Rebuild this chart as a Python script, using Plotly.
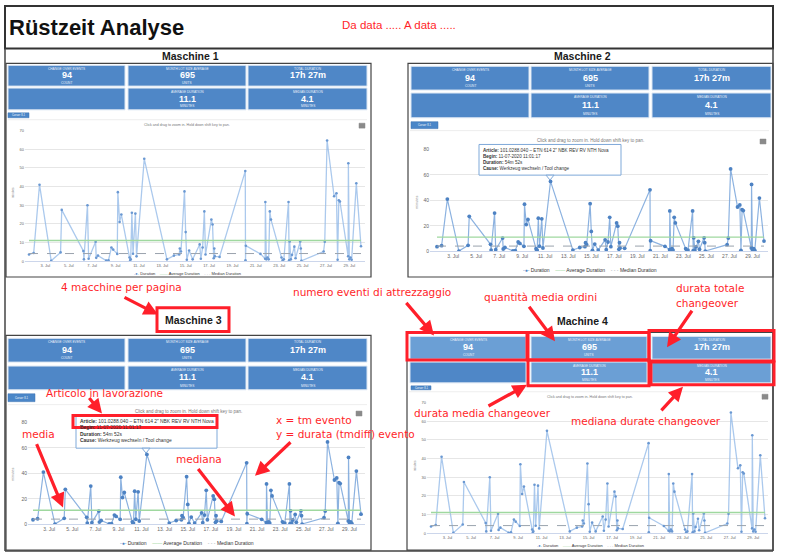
import plotly.graph_objects as go
import pandas as pd

W, H = 800, 558

# ---------------- data (July 2020) ----------------
event_day = [1.6, 2.0, 2.5, 3.5, 4.3, 4.4, 6.25, 6.3, 6.6, 6.7,
             7.3, 7.35, 7.5, 8.2, 8.4, 8.65, 8.8, 9.15, 9.2, 9.35,
             9.5, 10.2, 10.25, 10.3, 10.4, 10.5, 10.7, 10.8, 11.46, 13.4,
             14.0, 14.45, 14.5, 14.6, 14.9, 15.0, 15.1, 15.3, 15.6, 16.2,
             16.3, 16.45, 16.6, 16.7, 17.2, 17.3, 17.4, 17.45, 17.5, 17.9,
             20.1, 20.12, 20.15, 21.4, 21.8, 21.82, 21.9, 22.0, 22.1, 22.2,
             22.3, 23.2, 23.3, 23.4, 23.8, 23.85, 23.9, 24.0, 24.1, 24.3,
             24.4, 24.8, 24.85, 24.9, 26.8, 26.9, 27.1, 27.7, 27.9, 28.0,
             28.1, 28.2, 28.9, 28.92, 29.0, 29.1, 29.2, 29.6, 30.0]
duration_min = [3.6, 4.4, 41, 0.2, 4.7, 27.5, 5.5, 1, 30, 1.3,
                10.4, 1.8, 3, 0.3, 0.5, 7.3, 6.2, 3.9, 37, 21,
                25, 2, 0.3, 1, 26, 4, 25.5, 2.6, 54.9, 1,
                3, 3.6, 6.8, 5.2, 37.4, 15.6, 0.8, 5.7, 1, 9,
                1.3, 7.3, 26.7, 3.6, 22.3, 19.7, 1.6, 6.8, 2.6, 2.3,
                48.3, 0.5, 8.3, 3.9, 1.3, 31.7, 1, 2, 1, 26.7,
                22.3, 2, 0.5, 1, 31.7, 0.5, 10.6, 1, 3.4, 7.8,
                1.6, 10.6, 6.8, 0.2, 5.2, 10.4, 64.7, 34.8, 36.4, 0.8,
                32.7, 32, 2.6, 52.5, 1, 2, 0.8, 41.8, 8]
avg_duration = 11.1
median_duration = 4.1
tick_days = [3, 5, 7, 9, 11, 13, 15, 17, 19, 21, 23, 25, 27, 29]

machine_names = ["Maschine 1", "Maschine 2", "Maschine 3", "Machine 4"]
kpi_labels = ["CHANGE OVER EVENTS", "MONTH LOT SIZE AVERAGE", "TOTAL DURATION",
              "", "AVERAGE DURATION", "MEDIAN DURATION"]
kpi_values = ["94", "695", "17h 27m", "", "11.1", "4.1"]
kpi_units = ["COUNT", "UNITS", "", "", "MINUTES", "MINUTES"]
tooltip_keys = ["Article:", "Begin:", "Duration:", "Cause:"]
tooltip_vals = ["101.0288.040 – ETN 614 2\" NBK REV RV NTH Nova",
                "11-07-2020 11:01:17", "54m 52s", "Werkzeug wechseln / Tool change"]

base = pd.Timestamp("2020-07-01")
times = [base + pd.Timedelta(days=d - 1) for d in event_day]
tick_times = [base + pd.Timedelta(days=d - 1) for d in tick_days]
tick_text = ["%d. Jul" % d for d in tick_days]

RED = "#ff1f2a"
BLUE = "#4f87c7"
BLUE_LIGHT = "#6b9fd5"

shapes, annotations = [], []


def X(x):
    return x / W


def Y(y):
    return 1 - y / H


def rect(x0, y0, x1, y1, fill="rgba(0,0,0,0)", color="#444", lw=1, layer="above"):
    shapes.append(dict(type="rect", xref="paper", yref="paper", x0=X(x0), x1=X(x1),
                       y0=Y(y0), y1=Y(y1), fillcolor=fill,
                       line=dict(color=color, width=lw), layer=layer))


def hline(x0, y0, x1, y1, color="#444", lw=1, dash="solid"):
    shapes.append(dict(type="line", xref="paper", yref="paper", x0=X(x0), x1=X(x1),
                       y0=Y(y0), y1=Y(y1), line=dict(color=color, width=lw, dash=dash),
                       layer="above"))


def text(x, y, s, size, color="#000", family="Liberation Sans", xanchor="center",
         yanchor="middle", align="center", angle=0):
    annotations.append(dict(xref="paper", yref="paper", x=X(x), y=Y(y), text=s,
                            showarrow=False, font=dict(size=size, color=color, family=family),
                            xanchor=xanchor, yanchor=yanchor, align=align, textangle=angle,
                            borderpad=0))


def arrow(tx, ty, hx, hy):
    annotations.append(dict(xref="paper", yref="paper", x=X(hx), y=Y(hy),
                            ax=tx - hx, ay=ty - hy, axref="pixel", ayref="pixel",
                            text="", showarrow=True, arrowhead=2, arrowsize=0.9,
                            arrowwidth=3.2, arrowcolor=RED, standoff=0))


# ---------------- panel geometry ----------------
G = [
    dict(L=25, R=365, first=29, last=361, top=129, bot=261, ymax=70, dt=10,
         kx=[(8, 125), (128, 246), (248, 367)], ky=[(63, 84), (86, 108)],
         panel=(6, 61, 371, 277), title=(190, 54), btn=(8, 111, 29, 116),
         sep=118, click=(187, 123), ham=(362, 124), legend=(187, 273),
         ytitle=(13, 192), fs=4, ms=2.6, light=True),
    dict(L=430, R=768, first=437, last=764, top=148, bot=251, ymax=80, dt=20,
         kx=[(411, 529), (531, 649), (652, 771)], ky=[(64, 88), (91, 116)],
         panel=(408, 61, 773, 277), title=(582, 54), btn=(411, 120, 438, 127),
         sep=129, click=(590, 139), ham=(763, 140), legend=(590, 270),
         ytitle=(417, 202), fs=5, ms=3.8, light=False),
    dict(L=28, R=365, first=33, last=361, top=424, bot=527, ymax=80, dt=20,
         kx=[(8, 125), (128, 246), (248, 367)], ky=[(339, 363), (367, 391)],
         panel=(6, 336, 371, 553), title=(193, 320), btn=(8, 395, 35, 403),
         sep=406, click=(188, 413), ham=(359, 415), legend=(187, 546),
         ytitle=(13, 477), fs=5, ms=3.8, light=False),
    dict(L=427, R=768, first=431, last=765, top=404, bot=536, ymax=70, dt=10,
         kx=[(410, 526), (531, 647), (652, 771)], ky=[(337, 360), (363, 384)],
         panel=(407, 333, 773, 553), title=(582, 321), btn=(411, 387, 431, 391),
         sep=393, click=(590, 398), ham=(765, 398), legend=(590, 548),
         ytitle=(415, 468), fs=4, ms=2.6, light=True),
]

fig = go.Figure()
layout_axes = {}

for i, g in enumerate(G):
    n = "" if i == 0 else str(i + 1)
    xa, ya = "x" + n, "y" + n
    ppd = (g["last"] - g["first"]) / (event_day[-1] - event_day[0])
    dL = event_day[0] - (g["first"] - g["L"]) / ppd
    dR = event_day[-1] + (g["R"] - g["last"]) / ppd
    r0 = base + pd.Timedelta(days=dL - 1)
    r1 = base + pd.Timedelta(days=dR - 1)

    if g["light"]:
        lc, lw, mc = "rgba(150,188,232,0.8)", 1.3, "#6a98d2"
    else:
        lc, lw, mc = "rgba(120,165,218,0.85)", 1.2, "#4d82c3"
    fig.add_trace(go.Scatter(x=times, y=duration_min, mode="lines+markers",
                             xaxis=xa, yaxis=ya, showlegend=False, hoverinfo="skip",
                             line=dict(color=lc, width=lw),
                             marker=dict(size=g["ms"], color=mc)))
    fig.add_trace(go.Scatter(x=[times[0], times[-1]], y=[avg_duration] * 2, mode="lines",
                             xaxis=xa, yaxis=ya, showlegend=False, hoverinfo="skip",
                             line=dict(color="#9fd89f", width=1.4)))
    fig.add_trace(go.Scatter(x=[times[0], times[-1]], y=[median_duration] * 2, mode="lines",
                             xaxis=xa, yaxis=ya, showlegend=False, hoverinfo="skip",
                             line=dict(color="#9aa3ad", width=1, dash="dash")))

    layout_axes["xaxis" + n] = dict(
        domain=[X(g["L"]), X(g["R"])], anchor=ya, type="date",
        range=[r0.strftime("%Y-%m-%d %H:%M:%S"), r1.strftime("%Y-%m-%d %H:%M:%S")],
        tickmode="array", tickvals=tick_times, ticktext=tick_text,
        tickfont=dict(size=g["fs"], color="#666", family="Liberation Sans"),
        showgrid=False, showline=True, linecolor="#ccd6eb", linewidth=1,
        zeroline=False, ticks="", fixedrange=True)
    layout_axes["yaxis" + n] = dict(
        domain=[Y(g["bot"]), Y(g["top"])], anchor=xa, range=[0, g["ymax"]],
        dtick=g["dt"], showgrid=True, gridcolor="#e6e6e6", gridwidth=1,
        tickfont=dict(size=g["fs"], color="#666", family="Liberation Sans"),
        zeroline=False, showline=False, ticks="", fixedrange=True)

    # panel frame and title
    px0, py0, px1, py1 = g["panel"]
    rect(px0, py0, px1, py1, color="#444", lw=1.2)
    text(g["title"][0], g["title"][1], "<b>%s</b>" % machine_names[i], 10.5, "#1a1a1a")

    # KPI tiles
    k = 0
    for (ry0, ry1) in g["ky"]:
        for (cx0, cx1) in g["kx"]:
            fill = BLUE
            if i == 3 and k != 3:
                fill = BLUE_LIGHT
            rect(cx0, ry0, cx1, ry1, fill=fill, color="#dbe6f3", lw=1)
            h = ry1 - ry0
            cx = (cx0 + cx1) / 2
            if kpi_labels[k]:
                text(cx, ry0 + 0.17 * h, kpi_labels[k], 3.2, "#eaf1fa")
            if kpi_values[k]:
                text(cx, ry0 + 0.48 * h, "<b>%s</b>" % kpi_values[k], 9, "#ffffff")
            if kpi_units[k]:
                text(cx, ry0 + 0.84 * h, kpi_units[k], 3.2, "#eaf1fa")
            k += 1

    # button, separator, hint text, menu icon
    bx0, by0, bx1, by1 = g["btn"]
    rect(bx0, by0, bx1, by1, fill="#4a86c8", color="#3d72b2", lw=0.5)
    text((bx0 + bx1) / 2, (by0 + by1) / 2, "Cursor: 8.1", 2.6, "#ffffff")
    hline(px0 + 2, g["sep"], px1 - 4, g["sep"], color="#eeeeee", lw=1)
    text(g["click"][0], g["click"][1],
         "Click and drag to zoom in. Hold down shift key to pan.", g["fs"] * 0.9, "#777")
    hx, hy = g["ham"]
    rect(hx - 3, hy - 2.5, hx + 3, hy + 2.5, fill="#8a8a8a", color="#8a8a8a", lw=0.5)

    # y-axis title
    text(g["ytitle"][0], g["ytitle"][1], "minutes", g["fs"] * 0.75, "#888", angle=-90)

    # legend
    nb = "\u00a0" * 4
    legend_txt = ("<span style='color:#4d82c3'>-●-</span> Duration" + nb +
                  "<span style='color:#8fd08f'>——</span> Average Duration" + nb +
                  "<span style='color:#9aa3ad'>- - -</span> Median Duration")
    text(g["legend"][0], g["legend"][1], legend_txt, g["fs"], "#333")

# ---------------- tooltips (Maschine 2 and 3) ----------------
tip_txt = "<br>".join("<b>%s</b> %s" % (kk, vv) for kk, vv in zip(tooltip_keys, tooltip_vals))
for (bx0, by0, bx1, by1, tx, ty, ptx, pty, fsz) in [
        (479, 143, 621, 174, 482, 145.5, 550, 180, 4.6),
        (76, 417, 217, 450, 79, 419.5, 146, 456, 4.9)]:
    rect(bx0, by0, bx1, by1, fill="rgba(255,255,255,0.96)", color="#7fa9d9", lw=1)
    shapes.append(dict(type="path", xref="paper", yref="paper",
                       path="M %f,%f L %f,%f L %f,%f Z" % (X(ptx - 4), Y(by1), X(ptx + 4), Y(by1),
                                                          X(ptx), Y(pty - 1)),
                       fillcolor="#ffffff", line=dict(color="#7fa9d9", width=1), layer="above"))
    text(tx, ty, tip_txt, fsz, "#333", xanchor="left", yanchor="top", align="left")

# ---------------- page frame and header ----------------
rect(5, 3, 773, 46, color="#333", lw=2)
hline(5, 46, 5, 554, color="#444", lw=1.5)
hline(773, 46, 773, 554, color="#444", lw=1.5)
hline(5, 554, 773, 554, color="#444", lw=1.5)
text(8, 25, "<b>Rüstzeit Analyse</b>", 22, "#111", xanchor="left")
text(341, 22, "Da data ..... A data .....", 11.5, RED, xanchor="left")

# ---------------- red callouts ----------------
RF = "DejaVu Sans"
RS = 10.5
text(60, 287, "4 macchine per pagina", RS, RED, RF, xanchor="left")
text(292, 292, "numero eventi di attrezzaggio", RS, RED, RF, xanchor="left")
text(483, 297, "quantità media ordini", RS, RED, RF, xanchor="left")
text(710, 288, "durata totale", RS, RED, RF)
text(707, 303, "changeover", RS, RED, RF)
text(45, 394, "Articolo in lavorazione", RS, RED, RF, xanchor="left")
text(21, 436, "media", RS, RED, RF, xanchor="left")
text(175, 461, "mediana", RS, RED, RF, xanchor="left")
text(275, 422, "x = tm evento", RS, RED, RF, xanchor="left")
text(275, 436, "y = durata (tmdiff) evento", RS, RED, RF, xanchor="left")
text(413, 414, "durata media changeover", RS, RED, RF, xanchor="left")
text(570, 423, "mediana durate changeover", RS, RED, RF, xanchor="left")

rect(157, 308, 229, 332, color=RED, lw=3)       # Maschine 3 title
rect(73, 417, 217, 429, color=RED, lw=3)        # article line
rect(407, 333, 527, 361, color=RED, lw=3)       # events
rect(528, 333, 649, 361, color=RED, lw=3)       # lot size
rect(528, 361, 649, 387, color=RED, lw=3)       # avg duration
rect(649, 331, 774, 362, color=RED, lw=3)       # total duration
rect(651, 363, 774, 386, color=RED, lw=3)       # median duration

arrow(123, 297, 158, 315)
arrow(405, 302, 434, 336)
arrow(528, 306, 555, 342)
arrow(693, 310, 667, 348)
arrow(88, 398, 102, 415)
arrow(36, 445, 63, 510)
arrow(197, 470, 235, 519)
arrow(292, 443, 255, 478)
arrow(487, 408, 527, 386)
arrow(660, 413, 683, 388)

fig.update_layout(width=W, height=H, margin=dict(l=0, r=0, t=0, b=0),
                  paper_bgcolor="white", plot_bgcolor="white",
                  shapes=shapes, annotations=annotations, showlegend=False,
                  **layout_axes)

fig.write_html("out.html", config={"displayModeBar": False},
               post_script="document.body.style.margin='0px';")
